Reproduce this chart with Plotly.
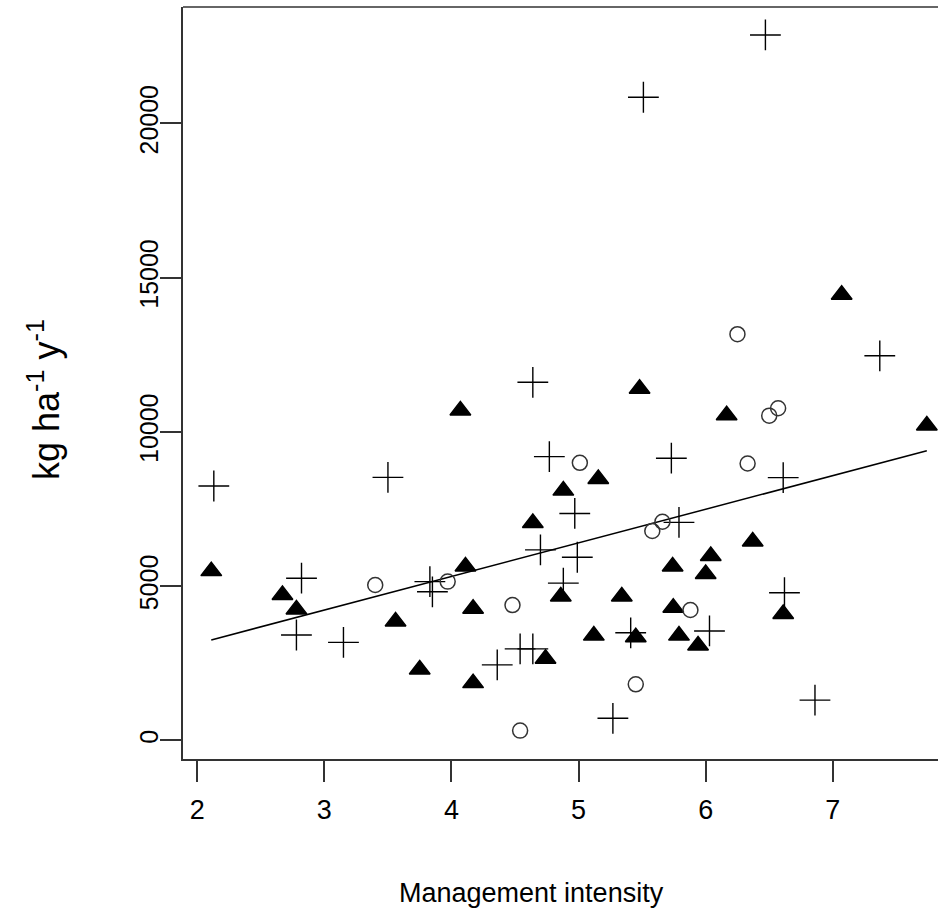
import plotly.graph_objects as go

# ---- data ----
cross_x = [6.47, 5.51, 7.37, 4.64, 4.77, 3.50, 2.13, 5.73, 6.61, 4.97, 5.79, 4.70, 4.99, 2.82,
           3.83, 3.85, 4.88, 6.62, 2.78, 3.15, 4.54, 4.64, 4.36, 5.41, 6.03, 5.27, 6.86]
cross_y = [22870, 20850, 12470, 11610, 9200, 8530, 8250, 9150, 8520, 7360, 7070, 6180, 5940, 5260,
           5150, 4820, 5100, 4790, 3420, 3180, 2970, 2970, 2450, 3490, 3550, 720, 1310]

tri_x = [7.07, 5.48, 4.07, 6.165, 7.74, 5.155, 4.88, 4.64, 6.37, 6.04, 5.74, 4.11, 2.11, 6.00, 2.67,
         4.86, 5.34, 2.78, 4.17, 6.61, 5.745, 3.56, 5.12, 5.45, 5.79, 5.94, 4.74, 3.75, 4.17]
tri_y = [14450, 11400, 10700, 10540, 10210, 8480, 8100, 7050, 6450, 5980, 5640, 5640, 5490, 5400, 4720,
         4670, 4670, 4250, 4270, 4100, 4300, 3860, 3400, 3350, 3400, 3080, 2650, 2300, 1860]

circ_x = [6.25, 6.50, 6.57, 5.01, 6.33, 5.66, 5.58, 3.40, 3.97, 4.48, 5.88, 5.45, 4.54]
circ_y = [13170, 10530, 10770, 9000, 8980, 7090, 6790, 5040, 5150, 4390, 4230, 1820, 320]

fit_x = [2.11, 7.74]
fit_y = [3260, 9390]

x_ticks = [2, 3, 4, 5, 6, 7]
y_ticks = [0, 5000, 10000, 15000, 20000]

x_title = "Management intensity"
y_title = "kg ha<sup>-1</sup> y<sup>-1</sup>"

FONT = "Liberation Sans, Arial, sans-serif"
AX = "#333333"

fig = go.Figure()
fig.add_trace(go.Scatter(x=fit_x, y=fit_y, mode="lines",
                         line=dict(color="black", width=1.5), hoverinfo="skip"))
fig.add_trace(go.Scatter(x=cross_x, y=cross_y, mode="markers",
                         marker=dict(symbol="cross-thin-open", size=22, color="black",
                                     line=dict(color="black", width=1.4))))
fig.add_trace(go.Scatter(x=tri_x, y=tri_y, mode="markers",
                         marker=dict(symbol="triangle-up", size=18, color="black",
                                     line=dict(color="black", width=1.5))))
fig.add_trace(go.Scatter(x=circ_x, y=circ_y, mode="markers",
                         marker=dict(symbol="circle-open", size=15, color="#333333",
                                     line=dict(color="#333333", width=1.5))))

fig.update_layout(
    width=938, height=922,
    margin=dict(l=183, r=0, t=7, b=163),
    paper_bgcolor="white", plot_bgcolor="white",
    showlegend=False,
    font=dict(family=FONT, color="black"),
    xaxis=dict(range=[1.8875, 7.828], tickvals=x_ticks, ticktext=[str(v) for v in x_ticks],
               showgrid=False, zeroline=False, showline=True, linecolor=AX, linewidth=1.5,
               ticks="outside", ticklen=21, tickwidth=1.5, tickcolor=AX,
               tickfont=dict(size=27, family=FONT, color="black"), ticklabelstandoff=5),
    yaxis=dict(range=[-600, 23776], tickvals=y_ticks, ticktext=[str(v) for v in y_ticks],
               showgrid=False, zeroline=False, showline=True, linecolor=AX, linewidth=1.5,
               ticks="outside", ticklen=21, tickwidth=1.5, tickcolor=AX, tickangle=-90,
               tickfont=dict(size=25, family=FONT, color="black"), ticklabelstandoff=-8),
    shapes=[dict(type="line", xref="paper", yref="paper", x0=0, x1=1, y0=1, y1=1,
                 line=dict(color=AX, width=1.5))],
    annotations=[
        dict(text=x_title, xref="paper", yref="paper", x=(531 - 183) / 755, y=(759 - 893) / 752,
             showarrow=False, font=dict(size=27, family=FONT, color="black"),
             xanchor="center", yanchor="middle"),
        dict(text=y_title, xref="paper", yref="paper", x=(44 - 183) / 755, y=(759 - 400) / 752,
             showarrow=False, textangle=-90, font=dict(size=36, family=FONT, color="black"),
             xanchor="center", yanchor="middle"),
    ],
)

fig.write_html("out.html")
